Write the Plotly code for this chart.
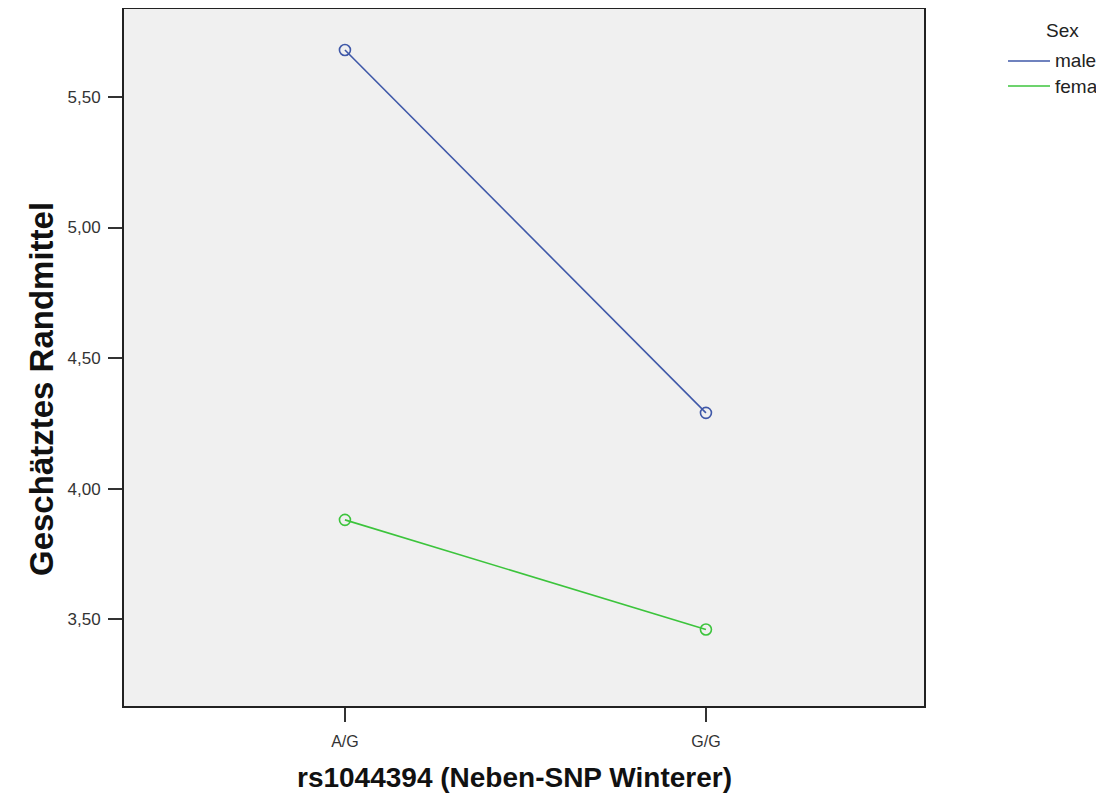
import plotly.graph_objects as go

categories = ["A/G", "G/G"]
series_names = ["male", "female"]
male_values = [5.68, 4.29]
female_values = [3.88, 3.46]
colors = ["#3f58a8", "#3cc43c"]
y_ticks = [3.5, 4.0, 4.5, 5.0, 5.5]

# plot-area geometry in figure pixels (page body adds an 8 px offset)
OFF = 8
L, T, W, H = 124 - OFF, 9 - OFF, 800, 697
FIG_W, FIG_H = 1104, 796


def px_x(x):
    return (x - OFF - L) / W


def px_y(y):
    return (T + H - (y - OFF)) / H


FONT = "Liberation Sans, Arial"

fig = go.Figure()
for name, vals, col in zip(series_names, [male_values, female_values], colors):
    fig.add_trace(go.Scatter(
        x=categories, y=vals, name=name, mode="lines+markers",
        line=dict(color=col, width=1.6),
        marker=dict(symbol="circle-open", size=11, color=col, line=dict(width=1.6)),
        showlegend=False,
    ))

# manual legend (partly cut off by the right page edge, as in the reference)
fig.add_annotation(x=px_x(1044), y=px_y(30), xref="paper", yref="paper",
                   text="Sex", showarrow=False, xanchor="left", yanchor="middle",
                   font=dict(family=FONT, size=19, color="#222"))
legend_y = [61, 86]
for name, col, py in zip(series_names, colors, legend_y):
    fig.add_shape(type="line", xref="paper", yref="paper",
                  x0=px_x(1008), x1=px_x(1050), y0=px_y(py), y1=px_y(py),
                  line=dict(color=col, width=1.6))
    fig.add_annotation(x=px_x(1053), y=px_y(py), xref="paper", yref="paper",
                       text=name, showarrow=False, xanchor="left", yanchor="middle",
                       font=dict(family=FONT, size=19, color="#222"))

# axis titles
fig.add_annotation(x=px_x(514), y=px_y(777), xref="paper", yref="paper",
                   text="<b>rs1044394 (Neben-SNP Winterer)</b>", showarrow=False,
                   xanchor="center", yanchor="middle",
                   font=dict(family=FONT, size=28, color="#111"))
fig.add_annotation(x=px_x(41), y=px_y(389), xref="paper", yref="paper",
                   text="<b>Geschätztes Randmittel</b>", showarrow=False, textangle=-90,
                   xanchor="center", yanchor="middle",
                   font=dict(family=FONT, size=33, color="#111"))

axis_common = dict(showline=True, linecolor="#222", linewidth=2, mirror=True,
                   ticks="outside", ticklen=14, tickwidth=1.5, tickcolor="#333",
                   showgrid=False, zeroline=False,
                   tickfont=dict(family=FONT, size=17, color="#333"))

fig.update_layout(
    width=FIG_W, height=FIG_H,
    margin=dict(l=L, r=FIG_W - L - W, t=T, b=FIG_H - T - H, autoexpand=False),
    paper_bgcolor="white", plot_bgcolor="#f0f0f0",
    separators=",.",
    xaxis=dict(axis_common, type="category", range=[-0.612, 1.604], ticklabelstandoff=6),
    yaxis=dict(axis_common, range=[3.167, 5.837], tickvals=y_ticks, tickformat=".2f",
               ticklabelstandoff=4),
    showlegend=False,
)
fig.update_xaxes(tickfont=dict(size=16))

fig.write_html("out.html")
